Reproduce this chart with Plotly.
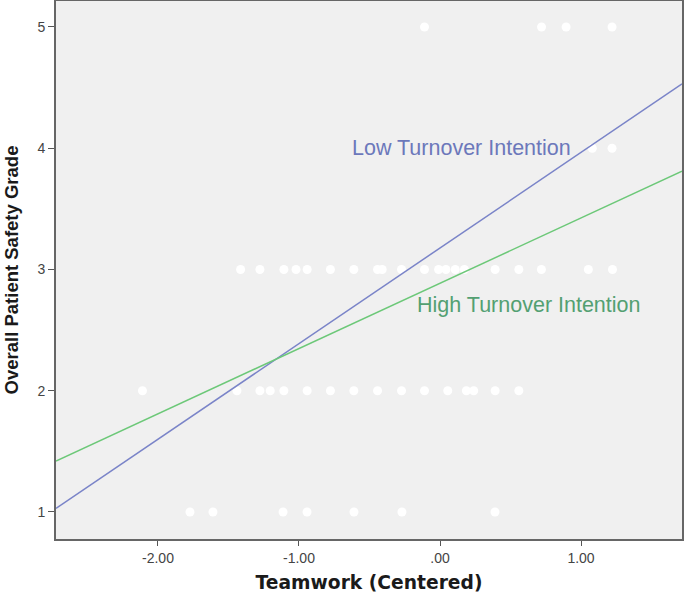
import plotly.graph_objects as go

# Data
x_range = [-2.723, 1.716]
low_line_y = [1.03, 4.53]
high_line_y = [1.42, 3.81]

pts_y5 = [-0.11, 0.72, 0.894, 1.22]
pts_y4 = [1.08, 1.22]
pts_y3 = [-1.414, -1.277, -1.107, -1.021, -0.942, -0.777, -0.611, -0.443, -0.41,
          -0.273, -0.110, -0.01, 0.042, 0.108, 0.173, 0.391, 0.559, 0.719, 1.052, 1.223]
pts_y2 = [-2.110, -1.440, -1.277, -1.204, -1.107, -0.942, -0.777, -0.611, -0.443,
          -0.273, -0.110, 0.055, 0.187, 0.239, 0.391, 0.559]
pts_y1 = [-1.773, -1.610, -1.113, -0.943, -0.610, -0.270, 0.390]

x_ticks = [-2, -1, 0, 1]
x_tick_text = ["-2.00", "-1.00", ".00", "1.00"]
y_ticks = [1, 2, 3, 4, 5]

px = pts_y5 + pts_y4 + pts_y3 + pts_y2 + pts_y1
py = ([5] * len(pts_y5) + [4] * len(pts_y4) + [3] * len(pts_y3)
      + [2] * len(pts_y2) + [1] * len(pts_y1))

fig = go.Figure()
fig.add_trace(go.Scatter(x=px, y=py, mode="markers",
                         marker=dict(color="white", size=9, line=dict(width=0)),
                         showlegend=False, hoverinfo="skip"))
fig.add_trace(go.Scatter(x=x_range, y=low_line_y, mode="lines",
                         line=dict(color="#7a84c8", width=1.5), showlegend=False))
fig.add_trace(go.Scatter(x=x_range, y=high_line_y, mode="lines",
                         line=dict(color="#6cc878", width=1.5), showlegend=False))

fig.add_annotation(x=-0.64, y=4.0, text="Low Turnover Intention", showarrow=False,
                   xanchor="left", yanchor="middle",
                   font=dict(family="Liberation Sans, Arial", size=21.5, color="#6c78bb"))
fig.add_annotation(x=-0.18, y=2.71, text="High Turnover Intention", showarrow=False,
                   xanchor="left", yanchor="middle",
                   font=dict(family="Liberation Sans, Arial", size=21.5, color="#53a072"))

fig.update_layout(
    width=685, height=597,
    margin=dict(l=56, r=3, t=1, b=58, autoexpand=False),
    paper_bgcolor="white", plot_bgcolor="#f0f0f0",
    font=dict(family="Liberation Sans, Arial", color="#444444", size=14),
)
fig.update_xaxes(range=x_range, tickvals=x_ticks, ticktext=x_tick_text,
                 showgrid=False, zeroline=False, showline=True, mirror=True,
                 linecolor="#666666", linewidth=2, ticks="outside", ticklen=5,
                 tickcolor="#555555", tickfont=dict(size=14, color="#444444"),
                 automargin=False,
                 title=dict(text="<b>Teamwork (Centered)</b>", standoff=11,
                            font=dict(family="DejaVu Sans", size=18.7, color="#1a1a1a")))
fig.update_yaxes(range=[0.777, 5.214], tickvals=y_ticks,
                 showgrid=False, zeroline=False, showline=True, mirror=True,
                 linecolor="#666666", linewidth=2, ticks="outside", ticklen=6,
                 tickcolor="#555555", tickfont=dict(size=14, color="#444444"),
                 automargin=False,
                 title=dict(text="<b>Overall Patient Safety Grade</b>", standoff=14,
                            font=dict(family="Liberation Sans, Arial", size=18.5, color="#1a1a1a")))

fig.write_html("out.html", config={"displayModeBar": False},
               post_script="document.body.style.margin='0px';")
